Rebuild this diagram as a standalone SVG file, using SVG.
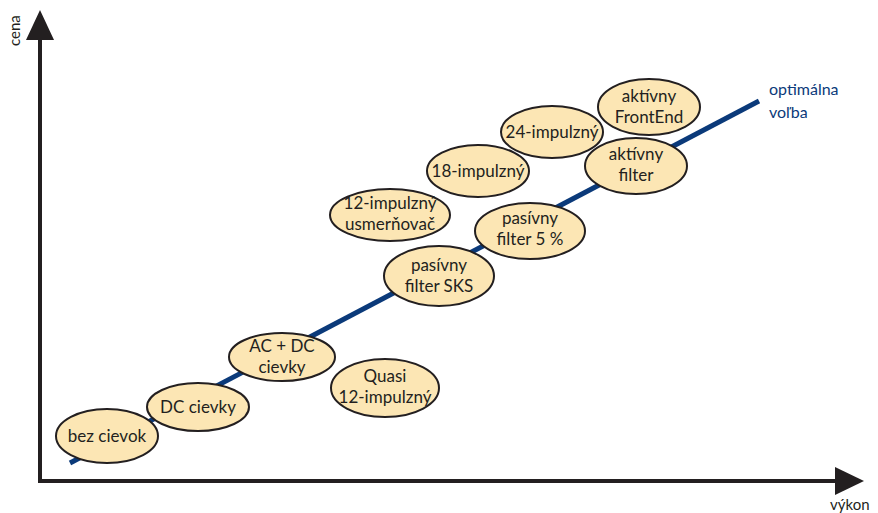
<svg xmlns="http://www.w3.org/2000/svg" width="878" height="513" viewBox="0 0 878 513">
<style>
.n ellipse{fill:#fce6b4;stroke:#231f20;stroke-width:2}
.n text{font-family:Lato,"Open Sans",sans-serif;font-size:17px;fill:#231f20;text-anchor:middle}
.ax{stroke:#231f20;stroke-width:4;fill:none}
.lbl{font-family:Lato,"Open Sans",sans-serif;font-size:15px;fill:#231f20}
.opt{font-family:Lato,"Open Sans",sans-serif;font-size:16px;fill:#0b3a7a}
</style>
<rect width="878" height="513" fill="#fff"/>
<g id="axes">
<line class="ax" x1="40" y1="40" x2="40" y2="483"/>
<line class="ax" x1="38" y1="481" x2="836" y2="481"/>
<polygon points="40,10 26,40 54,40" fill="#231f20"/>
<polygon points="864,481 835,467 835,495" fill="#231f20"/>
<text class="lbl" transform="translate(20,46) rotate(-90)">cena</text>
<text class="lbl" x="830" y="510">výkon</text>
</g>
<g id="connectors">
<line x1="70" y1="463" x2="759" y2="101" stroke="#0b3a7a" stroke-width="5"/>
<text class="opt" x="769" y="95">optimálna</text>
<text class="opt" x="769" y="118">voľba</text>
</g>
<g id="n1" class="n"><ellipse cx="107" cy="436" rx="51" ry="27"/><text x="107" y="442">bez cievok</text></g>
<g id="n2" class="n"><ellipse cx="198" cy="407" rx="51" ry="24"/><text x="198" y="413">DC cievky</text></g>
<g id="n3" class="n"><ellipse cx="282" cy="357" rx="53" ry="24"/><text x="282" y="352">AC + DC</text><text x="282" y="373">cievky</text></g>
<g id="n4" class="n"><ellipse cx="385" cy="388" rx="54" ry="29"/><text x="385" y="382">Quasi</text><text x="385" y="403">12-impulzný</text></g>
<g id="n5" class="n"><ellipse cx="439" cy="276" rx="55" ry="30"/><text x="439" y="271">pasívny</text><text x="439" y="292">filter SKS</text></g>
<g id="n6" class="n"><ellipse cx="530" cy="231" rx="55" ry="28"/><text x="530" y="224">pasívny</text><text x="530" y="245">filter 5 %</text></g>
<g id="n7" class="n"><ellipse cx="390" cy="215" rx="60" ry="26"/><text x="390" y="209">12-impulzný</text><text x="390" y="230">usmerňovač</text></g>
<g id="n8" class="n"><ellipse cx="478" cy="171" rx="51" ry="26"/><text x="478" y="177">18-impulzný</text></g>
<g id="n9" class="n"><ellipse cx="552" cy="132" rx="51" ry="26"/><text x="552" y="138">24-impulzný</text></g>
<g id="n10" class="n"><ellipse cx="649" cy="107" rx="51" ry="28"/><text x="649" y="102">aktívny</text><text x="649" y="123">FrontEnd</text></g>
<g id="n11" class="n"><ellipse cx="636" cy="166" rx="51" ry="28"/><text x="636" y="160">aktívny</text><text x="636" y="181">filter</text></g>
</svg>
